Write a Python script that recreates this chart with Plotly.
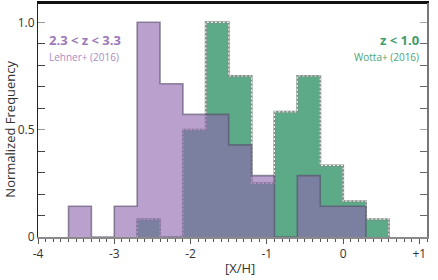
import plotly.graph_objects as go

# ---- data ----
purple_edges = [-3.6, -3.3, -3.0, -2.7, -2.4, -2.1, -1.8, -1.5, -1.2, -0.9, -0.6, -0.3, 0.0, 0.3]
purple_heights = [0.143, 0.0, 0.143, 1.0, 0.714, 0.571, 0.571, 0.429, 0.286, 0.0, 0.286, 0.143, 0.143]

green_edges = [-2.7, -2.4, -2.1, -1.8, -1.5, -1.2, -0.9, -0.6, -0.3, 0.0, 0.3, 0.6]
green_heights = [0.083, 0.0, 0.5, 1.0, 0.75, 0.25, 0.583, 0.75, 0.333, 0.167, 0.083]

x_tickvals = [-4, -3, -2, -1, 0, 1]
x_ticktext = ["-4", "-3", "-2", "-1", "0", "+1"]
y_tickvals = [0, 0.5, 1.0]
y_ticktext = ["0", "0.5", "1.0"]

FONT = "Open Sans"


def step_xy(edges, heights):
    xs = [edges[0]] + list(edges[:-1]) + [edges[-1], edges[-1]]
    ys = [0] + list(heights) + [heights[-1], 0]
    return xs, ys


fig = go.Figure()

gx, gy = step_xy(green_edges, green_heights)
fig.add_trace(go.Scatter(x=gx, y=gy, mode="lines", line=dict(shape="hv", color="rgb(125,140,132)", width=2),
                         fill="tozeroy", fillcolor="rgb(93,170,137)", hoverinfo="skip", showlegend=False))
fig.add_trace(go.Scatter(x=gx, y=gy, mode="lines", line=dict(shape="hv", color="rgb(240,240,240)", width=1.2, dash="2px,2px"),
                         hoverinfo="skip", showlegend=False))

px_, py_ = step_xy(purple_edges, purple_heights)
fig.add_trace(go.Scatter(x=px_, y=py_, mode="lines", line=dict(shape="hv", color="rgba(85,78,105,0.62)", width=1.6),
                         fill="tozeroy", fillcolor="rgba(142,102,174,0.62)", hoverinfo="skip", showlegend=False))

# invisible trace on the top/right axes
fig.add_trace(go.Scatter(x=[-4], y=[0], xaxis="x2", yaxis="y2", mode="markers", marker=dict(opacity=0),
                         hoverinfo="skip", showlegend=False))

fig.update_layout(
    width=438, height=280,
    margin=dict(l=38, r=11, t=3, b=43),
    paper_bgcolor="white", plot_bgcolor="white",
    font=dict(family=FONT, color="#333333", size=12),
    xaxis=dict(range=[-4, 1.1], showgrid=False, zeroline=False,
               showline=True, linecolor="#8a8a8a", linewidth=1.5,
               tickvals=x_tickvals, ticktext=x_ticktext,
               ticks="outside", ticklen=5, tickcolor="#555555", tickwidth=1,
               minor=dict(dtick=0.1, tick0=0, ticks="outside", ticklen=3, tickcolor="#555555", tickwidth=1),
               tickfont=dict(size=12, color="#333333")),
    xaxis2=dict(range=[-4, 1.1], overlaying="x", side="top", showgrid=False, zeroline=False,
                showline=True, linecolor="#111111", linewidth=2, ticks="", showticklabels=False),
    yaxis=dict(range=[0, 1.09], showgrid=False, zeroline=False,
               showline=True, linecolor="#222222", linewidth=1,
               tickvals=y_tickvals, ticktext=y_ticktext,
               ticks="inside", ticklen=7, tickcolor="#999999", tickwidth=1,
               minor=dict(dtick=0.1, tick0=0, ticks="inside", ticklen=7, tickcolor="#444444", tickwidth=1),
               tickfont=dict(size=12, color="#333333")),
    yaxis2=dict(range=[0, 1.09], overlaying="y", side="right", showgrid=False, zeroline=False,
                showline=True, linecolor="#777777", linewidth=1.5,
                tickvals=y_tickvals, showticklabels=False,
                ticks="inside", ticklen=7, tickcolor="#aaaaaa", tickwidth=1,
                minor=dict(dtick=0.1, tick0=0, ticks="inside", ticklen=7, tickcolor="#666666", tickwidth=1)),
    shapes=[dict(type="line", xref="paper", yref="paper", x0=0, x1=1, y0=1, y1=1, layer="above",
                 line=dict(color="#111111", width=2))],
    annotations=[
        dict(text="<b>2.3 &lt; z &lt; 3.3</b>", x=-3.88, y=0.92, xref="x", yref="y", xanchor="left", yanchor="middle",
             showarrow=False, font=dict(family=FONT, size=13, color="#9b78b8")),
        dict(text="Lehner+ (2016)", x=-3.88, y=0.838, xref="x", yref="y", xanchor="left", yanchor="middle",
             showarrow=False, font=dict(family=FONT, size=10, color="#a88cc3")),
        dict(text="<b>z &lt; 1.0</b>", x=1.02, y=0.92, xref="x", yref="y", xanchor="right", yanchor="middle",
             showarrow=False, font=dict(family=FONT, size=13, color="#3f9c6c")),
        dict(text="Wotta+ (2016)", x=1.02, y=0.838, xref="x", yref="y", xanchor="right", yanchor="middle",
             showarrow=False, font=dict(family=FONT, size=10, color="#48a577")),
        dict(text="Normalized Frequency", x=(10 - 38) / 389, xref="paper", y=0.5, yref="y", textangle=-90,
             xanchor="center", yanchor="middle",
             showarrow=False, font=dict(family=FONT, size=13, color="#333333")),
        dict(text="[X/H]", x=(240 - 38) / 389, xref="paper", y=-(268 - 237) / 234, yref="paper",
             xanchor="center", yanchor="middle",
             showarrow=False, font=dict(family=FONT, size=13, color="#333333")),
    ],
)

fig.write_html("out.html", config={"displayModeBar": False, "staticPlot": True},
               post_script="document.body.style.margin='0';document.body.style.overflow='hidden';")
